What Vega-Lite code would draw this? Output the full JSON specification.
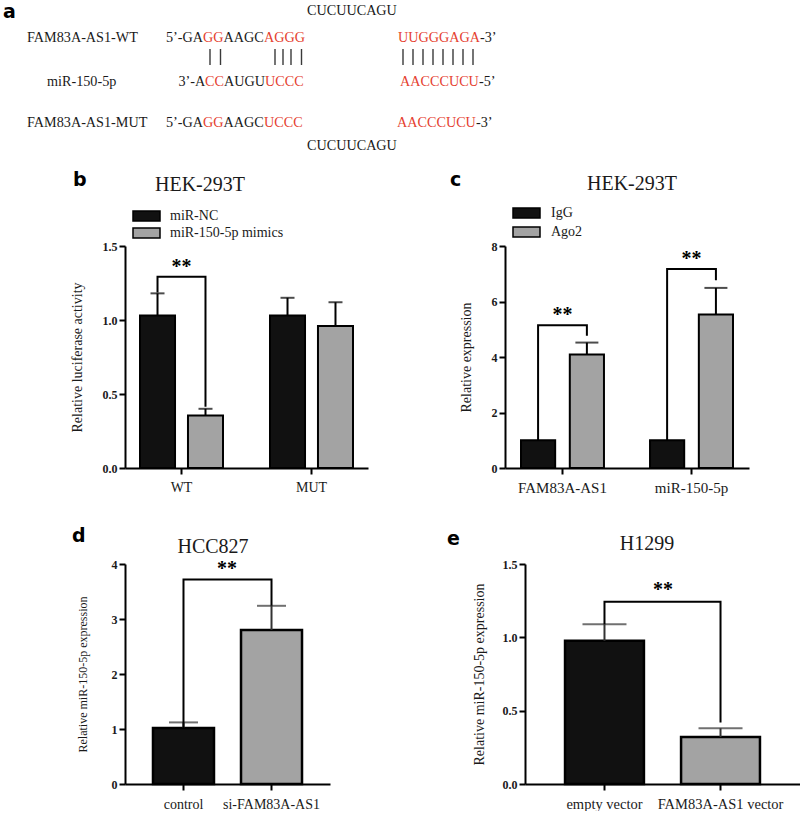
{
"$schema":"https://vega.github.io/schema/vega-lite/v6.json",
"background":"white",
"padding":0,
"config":{
 "view":{"stroke":null},
 "axis":{"domainColor":"#000","domainWidth":2,"tickColor":"#000","tickWidth":2,"tickSize":6,"labelFont":"Liberation Serif","titleFont":"Liberation Serif","labelColor":"#1a1a1a","titleColor":"#1a1a1a","grid":false,"titleFontWeight":"normal"},
 "axisY":{"labelFontWeight":"bold","labelFontSize":12,"labelPadding":2},
 "axisX":{"labelFontSize":14,"labelPadding":6,"labelAngle":0,"labelOverlap":false}
},
"datasets":{
 "barsB":[
  {"group":"WT","cond":"miR-NC","mean":1.03,"upper":1.18},
  {"group":"WT","cond":"miR-150-5p mimics","mean":0.355,"upper":0.40},
  {"group":"MUT","cond":"miR-NC","mean":1.03,"upper":1.15},
  {"group":"MUT","cond":"miR-150-5p mimics","mean":0.96,"upper":1.12}],
 "brB":[
  {"group":"WT","cond":"miR-NC","v":1.185,"s":1},
  {"group":"WT","cond":"miR-NC","v":1.293,"s":2},
  {"group":"WT","cond":"miR-150-5p mimics","v":1.293,"s":3},
  {"group":"WT","cond":"miR-150-5p mimics","v":0.414,"s":4}],
 "starB":[{"group":"WT","v":1.32,"t":"**"}],
 "annB":[
  {"t":"","hpos":0,"vpos":15.2,"k":"letter"},
  {"t":"a","hpos":3,"vpos":18,"k":"letter"},
  {"t":"CUCUUCAGU","hpos":307,"vpos":15,"k":"seq"},
  {"t":"FAM83A-AS1-WT","hpos":27,"vpos":42,"k":"seq"},
  {"t":"5’-GA","hpos":166,"vpos":42,"k":"seq"},
  {"t":"GG","hpos":203,"vpos":42,"k":"red"},
  {"t":"AAGC","hpos":223.5,"vpos":42,"k":"seq"},
  {"t":"AGGG","hpos":264,"vpos":42,"k":"red"},
  {"t":"|","hpos":210,"vpos":49,"vend":65,"k":"pipe"},
  {"t":"|","hpos":220.5,"vpos":49,"vend":65,"k":"pipe"},
  {"t":"|","hpos":275,"vpos":49,"vend":65,"k":"pipe"},
  {"t":"|","hpos":283,"vpos":49,"vend":65,"k":"pipe"},
  {"t":"|","hpos":291,"vpos":49,"vend":65,"k":"pipe"},
  {"t":"|","hpos":301.5,"vpos":49,"vend":65,"k":"pipe"},
  {"t":"miR-150-5p","hpos":47,"vpos":86,"k":"seq"},
  {"t":"3’-A","hpos":178.5,"vpos":86,"k":"seq"},
  {"t":"CC","hpos":205,"vpos":86,"k":"red"},
  {"t":"AUGU","hpos":224,"vpos":86,"k":"seq"},
  {"t":"UCCC","hpos":265,"vpos":86,"k":"red"},
  {"t":"FAM83A-AS1-MUT","hpos":27,"vpos":127,"k":"seq"},
  {"t":"5’-GA","hpos":166,"vpos":127,"k":"seq"},
  {"t":"GG","hpos":203,"vpos":127,"k":"red"},
  {"t":"AAGC","hpos":223.5,"vpos":127,"k":"seq"},
  {"t":"UCCC","hpos":264,"vpos":127,"k":"red"},
  {"t":"CUCUUCAGU","hpos":307,"vpos":150,"k":"seq"},
  {"t":"b","hpos":73,"vpos":186,"k":"letter"},
  {"t":"HEK-293T","hpos":200,"vpos":191,"k":"title"}],
 "barsC":[
  {"group":"FAM83A-AS1","cond":"IgG","mean":1.0,"upper":null},
  {"group":"FAM83A-AS1","cond":"Ago2","mean":4.09,"upper":4.52},
  {"group":"miR-150-5p","cond":"IgG","mean":1.0,"upper":null},
  {"group":"miR-150-5p","cond":"Ago2","mean":5.53,"upper":6.49}],
 "brC":[
  {"group":"FAM83A-AS1","cond":"IgG","v":1.0,"s":1},
  {"group":"FAM83A-AS1","cond":"IgG","v":5.14,"s":2},
  {"group":"FAM83A-AS1","cond":"Ago2","v":5.14,"s":3},
  {"group":"FAM83A-AS1","cond":"Ago2","v":4.77,"s":4},
  {"group":"miR-150-5p","cond":"IgG","v":1.0,"s":1},
  {"group":"miR-150-5p","cond":"IgG","v":7.17,"s":2},
  {"group":"miR-150-5p","cond":"Ago2","v":7.17,"s":3},
  {"group":"miR-150-5p","cond":"Ago2","v":6.77,"s":4}],
 "starC":[{"group":"FAM83A-AS1","v":5.28,"t":"**"},{"group":"miR-150-5p","v":7.33,"t":"**"}],
 "annC":[
  {"t":"UUGGGAGA","hpos":398,"vpos":42,"k":"red"},
  {"t":"-3’","hpos":480,"vpos":42,"k":"seq"},
  {"t":"|","hpos":403,"vpos":49,"vend":65,"k":"pipe"},
  {"t":"|","hpos":413,"vpos":49,"vend":65,"k":"pipe"},
  {"t":"|","hpos":423,"vpos":49,"vend":65,"k":"pipe"},
  {"t":"|","hpos":433,"vpos":49,"vend":65,"k":"pipe"},
  {"t":"|","hpos":443,"vpos":49,"vend":65,"k":"pipe"},
  {"t":"|","hpos":453,"vpos":49,"vend":65,"k":"pipe"},
  {"t":"|","hpos":463,"vpos":49,"vend":65,"k":"pipe"},
  {"t":"|","hpos":473,"vpos":49,"vend":65,"k":"pipe"},
  {"t":"AACCCUCU","hpos":400,"vpos":86,"k":"red"},
  {"t":"-5’","hpos":479,"vpos":86,"k":"seq"},
  {"t":"AACCCUCU","hpos":397,"vpos":127,"k":"red"},
  {"t":"-3’","hpos":476,"vpos":127,"k":"seq"},
  {"t":"c","hpos":450,"vpos":186,"k":"letter"},
  {"t":"HEK-293T","hpos":632,"vpos":190,"k":"title"}],
 "barsD":[
  {"group":"control","mean":1.02,"upper":1.12},
  {"group":"si-FAM83A-AS1","mean":2.80,"upper":3.24}],
 "brD":[
  {"group":"control","v":1.02,"s":1},
  {"group":"control","v":3.72,"s":2},
  {"group":"si-FAM83A-AS1","v":3.72,"s":3},
  {"group":"si-FAM83A-AS1","v":3.24,"s":4}],
 "annD":[
  {"t":"","hpos":0,"vpos":542,"k":"letter"},
  {"t":"d","hpos":72,"vpos":542,"k":"letter"},
  {"t":"HCC827","hpos":213,"vpos":553,"k":"title"},
  {"t":"**","hpos":227,"vpos":575,"k":"star"}],
 "barsE":[
  {"group":"empty vector","mean":0.976,"upper":1.09},
  {"group":"FAM83A-AS1 vector","mean":0.32,"upper":0.38}],
 "brE":[
  {"group":"empty vector","v":1.09,"s":1},
  {"group":"empty vector","v":1.243,"s":2},
  {"group":"FAM83A-AS1 vector","v":1.243,"s":3},
  {"group":"FAM83A-AS1 vector","v":0.42,"s":4}],
 "annE":[
  {"t":"e","hpos":447,"vpos":545,"k":"letter"},
  {"t":"H1299","hpos":647,"vpos":550,"k":"title"},
  {"t":"**","hpos":663,"vpos":596,"k":"star"}]
},
"spacing":32,
"resolve":{"scale":{"color":"independent","xOffset":"independent"},"legend":{"color":"independent"}},
"vconcat":[
 {"hconcat":[
 {
  "width":243,"height":222,
  "resolve":{"scale":{"x":"independent","y":"independent"}},
  "layer":[
   {"layer":[
    {"data":{"name":"barsB"},"mark":{"type":"bar","stroke":"#000","strokeWidth":2},
     "encoding":{
      "x":{"field":"group","type":"nominal","scale":{"domain":["WT","MUT"],"paddingInner":0.3615,"paddingOuter":0.1154},"axis":{"title":null}},
      "xOffset":{"field":"cond","type":"nominal","scale":{"domain":["miR-NC","miR-150-5p mimics"],"paddingInner":0.27,"paddingOuter":0}},
      "y":{"field":"mean","type":"quantitative","scale":{"domain":[0,1.5],"nice":false},"axis":{"title":"Relative luciferase activity","values":[0,0.5,1,1.5],"format":".1f","titleFontSize":14,"minExtent":22,"maxExtent":22,"titlePadding":19}},
      "color":{"field":"cond","type":"nominal","scale":{"domain":["miR-NC","miR-150-5p mimics"],"range":["#111111","#a3a3a3"]},
        "legend":{"title":null,"orient":"none","legendX":14.5,"legendY":-37,"padding":0,"symbolType":"M-2.7,-1H2.7V1H-2.7Z","symbolSize":100,"symbolStrokeColor":"#000","symbolStrokeWidth":1.5,"labelFont":"Liberation Serif","labelFontSize":14,"labelColor":"#1a1a1a","labelOffset":16.5,"rowPadding":1}}
     }},
    {"data":{"name":"barsB"},"mark":{"type":"rule","color":"#000","strokeWidth":2},
     "encoding":{"x":{"field":"group","type":"nominal"},"xOffset":{"field":"cond","type":"nominal"},"y":{"field":"mean","type":"quantitative"},"y2":{"field":"upper"}}},
    {"data":{"name":"barsB"},"mark":{"type":"tick","color":"#000","thickness":2,"size":14},
     "encoding":{"x":{"field":"group","type":"nominal"},"xOffset":{"field":"cond","type":"nominal"},"y":{"field":"upper","type":"quantitative"}}},
    {"data":{"name":"brB"},"mark":{"type":"line","color":"#000","strokeWidth":2,"strokeJoin":"miter"},
     "encoding":{"x":{"field":"group","type":"nominal"},"xOffset":{"field":"cond","type":"nominal"},"y":{"field":"v","type":"quantitative"},"order":{"field":"s","type":"quantitative"},"detail":{"field":"group"}}},
    {"data":{"name":"starB"},"mark":{"type":"text","font":"Liberation Serif","fontSize":20,"fontWeight":"bold","baseline":"alphabetic","color":"#000"},
     "encoding":{"x":{"field":"group","type":"nominal"},"y":{"field":"v","type":"quantitative"},"text":{"field":"t"}}}
   ]},
   {"data":{"name":"annB"},
    "encoding":{
     "x":{"field":"hpos","type":"quantitative","scale":{"domain":[125,368],"nice":false,"zero":false},"axis":null},
     "y":{"field":"vpos","type":"quantitative","scale":{"domain":[246,468],"nice":false,"zero":false,"reverse":true},"axis":null}},
    "layer":[
     {"transform":[{"filter":"datum.k==='seq'"}],"mark":{"type":"text","align":"left","baseline":"alphabetic","font":"Liberation Serif","fontSize":14.2,"color":"#1a1a1a"},"encoding":{"text":{"field":"t"}}},
     {"transform":[{"filter":"datum.k==='red'"}],"mark":{"type":"text","align":"left","baseline":"alphabetic","font":"Liberation Serif","fontSize":14.2,"color":"#e5412f"},"encoding":{"text":{"field":"t"}}},
     {"transform":[{"filter":"datum.k==='pipe'"}],"mark":{"type":"rule","color":"#3a3a3a","strokeWidth":1.4},"encoding":{"y2":{"field":"vend"}}},
     {"transform":[{"filter":"datum.k==='letter'"}],"mark":{"type":"text","align":"left","baseline":"alphabetic","font":"DejaVu Sans","fontWeight":"bold","fontSize":19,"color":"#000"},"encoding":{"text":{"field":"t"}}},
     {"transform":[{"filter":"datum.k==='title'"}],"mark":{"type":"text","align":"center","baseline":"alphabetic","font":"Liberation Serif","fontSize":20,"color":"#1a1a1a"},"encoding":{"text":{"field":"t"}}}
    ]}
  ]
 },
 {
  "width":244,"height":222,
  "resolve":{"scale":{"x":"independent","y":"independent"}},
  "layer":[
   {"layer":[
    {"data":{"name":"barsC"},"mark":{"type":"bar","stroke":"#000","strokeWidth":2},
     "encoding":{
      "x":{"field":"group","type":"nominal","scale":{"domain":["FAM83A-AS1","miR-150-5p"],"paddingInner":0.357,"paddingOuter":0.124},"axis":{"title":null,"labelFontSize":15}},
      "xOffset":{"field":"cond","type":"nominal","scale":{"domain":["IgG","Ago2"],"paddingInner":0.3,"paddingOuter":0}},
      "y":{"field":"mean","type":"quantitative","scale":{"domain":[0,8],"nice":false},"axis":{"title":"Relative expression","values":[0,2,4,6,8],"format":"d","titleFontSize":14,"minExtent":14,"maxExtent":14,"titlePadding":18}},
      "color":{"field":"cond","type":"nominal","scale":{"domain":["IgG","Ago2"],"range":["#111111","#a3a3a3"]},
        "legend":{"title":null,"orient":"none","legendX":14.5,"legendY":-40,"padding":0,"symbolType":"M-2.7,-1H2.7V1H-2.7Z","symbolSize":100,"symbolStrokeColor":"#000","symbolStrokeWidth":1.5,"labelFont":"Liberation Serif","labelFontSize":14,"labelColor":"#1a1a1a","labelOffset":17.5,"rowPadding":3}}
     }},
    {"data":{"name":"barsC"},"transform":[{"filter":"datum.upper != null"}],"mark":{"type":"rule","color":"#000","strokeWidth":2},
     "encoding":{"x":{"field":"group","type":"nominal"},"xOffset":{"field":"cond","type":"nominal"},"y":{"field":"mean","type":"quantitative"},"y2":{"field":"upper"}}},
    {"data":{"name":"barsC"},"transform":[{"filter":"datum.upper != null"}],"mark":{"type":"tick","color":"#000","thickness":2,"size":23},
     "encoding":{"x":{"field":"group","type":"nominal"},"xOffset":{"field":"cond","type":"nominal"},"y":{"field":"upper","type":"quantitative"}}},
    {"data":{"name":"brC"},"mark":{"type":"line","color":"#000","strokeWidth":2,"strokeJoin":"miter"},
     "encoding":{"x":{"field":"group","type":"nominal"},"xOffset":{"field":"cond","type":"nominal"},"y":{"field":"v","type":"quantitative"},"order":{"field":"s","type":"quantitative"},"detail":{"field":"group"}}},
    {"data":{"name":"starC"},"mark":{"type":"text","font":"Liberation Serif","fontSize":20,"fontWeight":"bold","baseline":"alphabetic","color":"#000"},
     "encoding":{"x":{"field":"group","type":"nominal"},"y":{"field":"v","type":"quantitative"},"text":{"field":"t"}}}
   ]},
   {"data":{"name":"annC"},
    "encoding":{
     "x":{"field":"hpos","type":"quantitative","scale":{"domain":[505,749],"nice":false,"zero":false},"axis":null},
     "y":{"field":"vpos","type":"quantitative","scale":{"domain":[246,468],"nice":false,"zero":false,"reverse":true},"axis":null}},
    "layer":[
     {"transform":[{"filter":"datum.k==='seq'"}],"mark":{"type":"text","align":"left","baseline":"alphabetic","font":"Liberation Serif","fontSize":14.2,"color":"#1a1a1a"},"encoding":{"text":{"field":"t"}}},
     {"transform":[{"filter":"datum.k==='red'"}],"mark":{"type":"text","align":"left","baseline":"alphabetic","font":"Liberation Serif","fontSize":14.2,"color":"#e5412f"},"encoding":{"text":{"field":"t"}}},
     {"transform":[{"filter":"datum.k==='pipe'"}],"mark":{"type":"rule","color":"#3a3a3a","strokeWidth":1.4},"encoding":{"y2":{"field":"vend"}}},
     {"transform":[{"filter":"datum.k==='letter'"}],"mark":{"type":"text","align":"left","baseline":"alphabetic","font":"DejaVu Sans","fontWeight":"bold","fontSize":19,"color":"#000"},"encoding":{"text":{"field":"t"}}},
     {"transform":[{"filter":"datum.k==='title'"}],"mark":{"type":"text","align":"center","baseline":"alphabetic","font":"Liberation Serif","fontSize":20,"color":"#1a1a1a"},"encoding":{"text":{"field":"t"}}}
    ]}
  ]
 }
 ],
 "spacing":137,"bounds":"flush",
 "resolve":{"scale":{"color":"independent","xOffset":"independent"},"legend":{"color":"independent"}}
 },
 {"hconcat":[
 {
  "width":205,"height":220,
  "resolve":{"scale":{"x":"independent","y":"independent"}},
  "layer":[
   {"layer":[
    {"data":{"name":"barsD"},"mark":{"type":"bar","stroke":"#000","strokeWidth":2.5},
     "encoding":{
      "x":{"field":"group","type":"nominal","scale":{"domain":["control","si-FAM83A-AS1"],"paddingInner":0.307,"paddingOuter":0.318},"axis":{"title":null,"labelPadding":7}},
      "y":{"field":"mean","type":"quantitative","scale":{"domain":[0,4],"nice":false},"axis":{"title":"Relative miR-150-5p expression","values":[0,1,2,3,4],"format":"d","titleFontSize":12,"minExtent":14,"maxExtent":14,"titlePadding":22}},
      "color":{"field":"group","type":"nominal","scale":{"domain":["control","si-FAM83A-AS1"],"range":["#111111","#a3a3a3"]},"legend":null}
     }},
    {"data":{"name":"barsD"},"mark":{"type":"rule","color":"#333","strokeWidth":2},
     "encoding":{"x":{"field":"group","type":"nominal"},"y":{"field":"mean","type":"quantitative"},"y2":{"field":"upper"}}},
    {"data":{"name":"barsD"},"mark":{"type":"tick","color":"#333","thickness":2,"size":29},
     "encoding":{"x":{"field":"group","type":"nominal"},"y":{"field":"upper","type":"quantitative"}}},
    {"data":{"name":"brD"},"mark":{"type":"line","color":"#000","strokeWidth":2,"strokeJoin":"miter"},
     "encoding":{"x":{"field":"group","type":"nominal"},"y":{"field":"v","type":"quantitative"},"order":{"field":"s","type":"quantitative"}}}
   ]},
   {"data":{"name":"annD"},
    "encoding":{
     "x":{"field":"hpos","type":"quantitative","scale":{"domain":[125,330],"nice":false,"zero":false},"axis":null},
     "y":{"field":"vpos","type":"quantitative","scale":{"domain":[564,784],"nice":false,"zero":false,"reverse":true},"axis":null},
     "text":{"field":"t"}},
    "layer":[
     {"transform":[{"filter":"datum.k==='letter'"}],"mark":{"type":"text","align":"left","baseline":"alphabetic","font":"DejaVu Sans","fontWeight":"bold","fontSize":19,"color":"#000"}},
     {"transform":[{"filter":"datum.k==='title'"}],"mark":{"type":"text","align":"center","baseline":"alphabetic","font":"Liberation Serif","fontSize":20,"color":"#1a1a1a"}},
     {"transform":[{"filter":"datum.k==='star'"}],"mark":{"type":"text","align":"center","baseline":"alphabetic","font":"Liberation Serif","fontSize":20,"fontWeight":"bold","color":"#000"}}
    ]}
  ]
 },
 {
  "width":275,"height":220,
  "resolve":{"scale":{"x":"independent","y":"independent"}},
  "layer":[
   {"layer":[
    {"data":{"name":"barsE"},"mark":{"type":"bar","stroke":"#000","strokeWidth":2.5},
     "encoding":{
      "x":{"field":"group","type":"nominal","scale":{"domain":["empty vector","FAM83A-AS1 vector"],"paddingInner":0.32,"paddingOuter":0.345},"axis":{"title":null,"labelPadding":7,"labelFontSize":14.5}},
      "y":{"field":"mean","type":"quantitative","scale":{"domain":[0,1.5],"nice":false},"axis":{"title":"Relative miR-150-5p expression","values":[0,0.5,1,1.5],"format":".1f","titleFontSize":14,"minExtent":22,"maxExtent":22,"titlePadding":17}},
      "color":{"field":"group","type":"nominal","scale":{"domain":["empty vector","FAM83A-AS1 vector"],"range":["#111111","#a3a3a3"]},"legend":null}
     }},
    {"data":{"name":"barsE"},"mark":{"type":"rule","color":"#333","strokeWidth":2},
     "encoding":{"x":{"field":"group","type":"nominal"},"y":{"field":"mean","type":"quantitative"},"y2":{"field":"upper"}}},
    {"data":{"name":"barsE"},"mark":{"type":"tick","color":"#333","thickness":2,"size":44},
     "encoding":{"x":{"field":"group","type":"nominal"},"y":{"field":"upper","type":"quantitative"}}},
    {"data":{"name":"brE"},"mark":{"type":"line","color":"#000","strokeWidth":2,"strokeJoin":"miter"},
     "encoding":{"x":{"field":"group","type":"nominal"},"y":{"field":"v","type":"quantitative"},"order":{"field":"s","type":"quantitative"}}}
   ]},
   {"data":{"name":"annE"},
    "encoding":{
     "x":{"field":"hpos","type":"quantitative","scale":{"domain":[525,800],"nice":false,"zero":false},"axis":null},
     "y":{"field":"vpos","type":"quantitative","scale":{"domain":[564,784],"nice":false,"zero":false,"reverse":true},"axis":null},
     "text":{"field":"t"}},
    "layer":[
     {"transform":[{"filter":"datum.k==='letter'"}],"mark":{"type":"text","align":"left","baseline":"alphabetic","font":"DejaVu Sans","fontWeight":"bold","fontSize":19,"color":"#000"}},
     {"transform":[{"filter":"datum.k==='title'"}],"mark":{"type":"text","align":"center","baseline":"alphabetic","font":"Liberation Serif","fontSize":20,"color":"#1a1a1a"}},
     {"transform":[{"filter":"datum.k==='star'"}],"mark":{"type":"text","align":"center","baseline":"alphabetic","font":"Liberation Serif","fontSize":20,"fontWeight":"bold","color":"#000"}}
    ]}
  ]
 }
 ],
 "spacing":195,"bounds":"flush",
 "resolve":{"scale":{"color":"independent"},"legend":{"color":"independent"}}
 }
]
}
